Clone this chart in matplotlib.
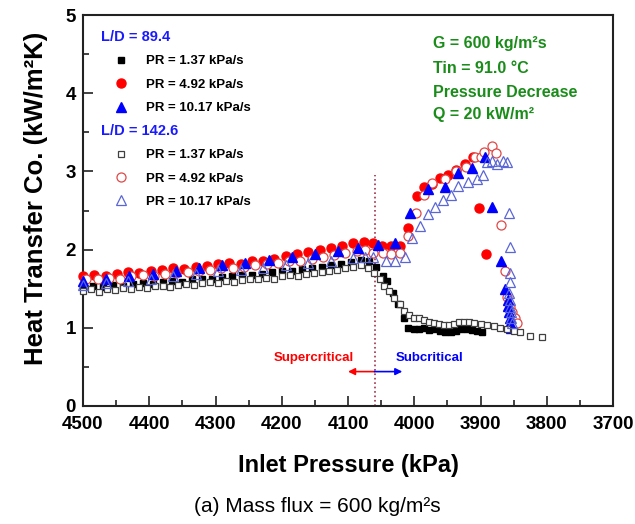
import matplotlib
matplotlib.use("Agg")
import matplotlib.pyplot as plt
from matplotlib.ticker import MultipleLocator
from matplotlib.lines import Line2D

plt.rcParams['font.family'] = ['Liberation Sans', 'DejaVu Sans']

# ---------------- data ----------------
# L/D = 89.4, PR = 1.37 kPa/s (filled squares)
p_sq_f = [4500,4485,4470,4455,4440,4425,4410,4395,4380,4365,4350,4335,4320,4305,4290,4275,4260,4245,4230,4215,
          4200,4185,4170,4155,4140,4125,4110,4095,4080,4068,4058,4047,4041,4032,4025,4015,4009,4001,3993,3985,
          3977,3969,3961,3953,3945,3937,3929,3921,3913,3905,3898]
h_sq_f = [1.52,1.53,1.52,1.55,1.54,1.56,1.57,1.56,1.59,1.60,1.59,1.62,1.63,1.62,1.65,1.66,1.67,1.68,1.69,1.71,
          1.72,1.73,1.75,1.76,1.78,1.80,1.82,1.84,1.87,1.85,1.78,1.66,1.60,1.45,1.30,1.12,1.00,0.99,0.98,1.00,
          0.97,0.98,0.96,0.95,0.94,0.96,0.98,0.99,0.97,0.96,0.95]

# L/D = 89.4, PR = 4.92 kPa/s (filled circles)
p_ci_f = [4500,4483,4466,4449,4432,4415,4398,4381,4364,4347,4330,4313,4296,4279,4262,4245,4228,4211,4194,4177,
          4160,4143,4126,4109,4092,4076,4062,4049,4035,4021,4009,3996,3985,3973,3961,3949,3937,3923,3912,3902,3892]
h_ci_f = [1.66,1.67,1.66,1.69,1.71,1.70,1.73,1.74,1.76,1.75,1.78,1.79,1.81,1.83,1.82,1.85,1.86,1.88,1.92,1.95,
          1.97,1.99,2.02,2.05,2.08,2.10,2.08,2.04,2.05,2.05,2.28,2.68,2.80,2.84,2.92,2.96,3.02,3.10,3.18,2.53,1.95]

# L/D = 89.4, PR = 10.17 kPa/s (filled triangles)
p_tr_f = [4500,4465,4430,4395,4360,4325,4290,4255,4220,4185,4150,4115,4085,4055,4029,4006,3980,3954,3934,3913,
          3893,3883,3869,3863,3859,3858,3857,3856,3855,3854]
h_tr_f = [1.60,1.62,1.66,1.69,1.72,1.76,1.80,1.83,1.87,1.90,1.94,1.98,2.02,2.06,2.09,2.47,2.77,2.80,2.98,3.04,
          3.19,2.54,1.85,1.50,1.36,1.28,1.20,1.13,1.06,1.00]

# L/D = 142.6, PR = 1.37 kPa/s (open squares)
p_sq_o = [4500,4488,4476,4464,4452,4440,4428,4416,4404,4392,4380,4368,4356,4344,4332,4320,4308,4296,4284,4272,
          4260,4248,4236,4224,4212,4200,4188,4176,4164,4152,4140,4128,4116,4104,4092,4080,4070,4061,4052,4045,
          4038,4030,4022,4015,4008,4000,3993,3985,3978,3970,3962,3955,3948,3940,3933,3925,3918,3910,3900,3890,
          3880,3870,3860,3850,3840,3825,3807]
h_sq_o = [1.47,1.49,1.46,1.50,1.48,1.51,1.50,1.52,1.51,1.53,1.54,1.52,1.55,1.56,1.55,1.57,1.58,1.57,1.60,1.59,
          1.61,1.62,1.62,1.64,1.63,1.66,1.67,1.66,1.69,1.70,1.71,1.73,1.74,1.76,1.78,1.80,1.77,1.70,1.62,1.54,
          1.47,1.38,1.30,1.22,1.17,1.13,1.12,1.10,1.08,1.06,1.05,1.04,1.03,1.05,1.08,1.08,1.07,1.06,1.05,1.04,
          1.02,1.00,0.98,0.96,0.94,0.90,0.88]

# L/D = 142.6, PR = 4.92 kPa/s (open circles)
p_ci_o = [4495,4478,4461,4444,4427,4410,4393,4376,4359,4342,4325,4308,4291,4274,4257,4240,4223,4206,4189,4172,
          4155,4138,4121,4104,4087,4074,4062,4047,4035,4021,4009,3997,3985,3973,3954,3937,3922,3908,3900,3895,
          3883,3876,3869,3863,3860,3856,3852,3848,3845]
h_ci_o = [1.62,1.63,1.64,1.63,1.66,1.67,1.66,1.69,1.70,1.71,1.73,1.74,1.76,1.77,1.78,1.80,1.81,1.83,1.85,1.86,
          1.88,1.90,1.93,1.96,1.98,2.00,1.96,1.96,1.94,1.96,2.18,2.47,2.70,2.85,2.90,3.00,3.06,3.19,3.18,3.25,
          3.33,3.24,2.32,1.72,1.40,1.27,1.20,1.12,1.06]

# L/D = 142.6, PR = 10.17 kPa/s (open triangles)
p_tr_o = [4500,4466,4432,4398,4364,4330,4296,4262,4228,4194,4160,4126,4092,4075,4062,4043,4029,4014,4004,3992,
          3980,3968,3956,3945,3934,3919,3906,3896,3890,3883,3875,3866,3860,3857,3855,3855,3855,3857,3856,3855,
          3854,3854,3853]
h_tr_o = [1.55,1.57,1.60,1.63,1.66,1.69,1.72,1.74,1.77,1.80,1.83,1.86,1.89,1.91,1.90,1.85,1.85,1.91,2.15,2.30,
          2.45,2.54,2.64,2.70,2.81,2.87,2.90,2.96,3.12,3.13,3.09,3.13,3.12,2.47,2.03,1.70,1.58,1.44,1.35,1.27,
          1.20,1.13,1.06]

pr_labels = ["PR = 1.37 kPa/s", "PR = 4.92 kPa/s", "PR = 10.17 kPa/s"]
ld_labels = ["L/D = 89.4", "L/D = 142.6"]
cond_lines = ["G = 600 kg/m\u00b2s", "Tin = 91.0 \u00b0C", "Pressure Decrease", "Q = 20 kW/m\u00b2"]
p_critical = 4060

# ---------------- figure ----------------
fig = plt.figure(figsize=(6.35, 5.24), dpi=100)
ax = fig.add_axes([83/635, 1-406/524, 530/635, 391/524])

RED = '#ff0000'
BLUE = '#0000ff'
ORED = '#e04848'
OBLUE = '#5a66d6'
OGRAY = '#404040'

s1, = ax.plot(p_sq_f, h_sq_f, ls='none', marker='s', ms=5, mfc='black', mec='black', zorder=3, clip_on=False)
s2, = ax.plot(p_ci_f, h_ci_f, ls='none', marker='o', ms=6.5, mfc=RED, mec=RED, zorder=4, clip_on=False)
s5, = ax.plot(p_ci_o, h_ci_o, ls='none', marker='o', ms=6.5, mfc='white', mec=ORED, mew=0.9, zorder=5, clip_on=False)
s3, = ax.plot(p_tr_f, h_tr_f, ls='none', marker='^', ms=7, mfc=BLUE, mec=BLUE, zorder=6, clip_on=False)
s4, = ax.plot(p_sq_o, h_sq_o, ls='none', marker='s', ms=5, mfc='white', mec=OGRAY, mew=0.9, zorder=6.5, clip_on=False)
s6, = ax.plot(p_tr_o, h_tr_o, ls='none', marker='^', ms=7.5, mfc='none', mec=OBLUE, mew=0.9, zorder=7, clip_on=False)

ax.set_xlim(4500, 3700)
ax.set_ylim(0, 5)
ax.xaxis.set_major_locator(MultipleLocator(100))
ax.xaxis.set_minor_locator(MultipleLocator(50))
ax.yaxis.set_major_locator(MultipleLocator(1))
ax.yaxis.set_minor_locator(MultipleLocator(0.5))
ax.tick_params(which='both', direction='in', top=False, right=False, width=1.2, color='#222222')
ax.tick_params(which='major', length=7, labelsize=13.5)
ax.tick_params(axis='x', which='major', pad=7)
ax.tick_params(axis='y', which='major', pad=5)
ax.tick_params(which='minor', length=4)
for lab in ax.get_xticklabels() + ax.get_yticklabels():
    lab.set_fontweight('bold')
for sp in ax.spines.values():
    sp.set_linewidth(1.5)
    sp.set_color('#222222')

ax.set_xlabel("Inlet Pressure (kPa)", fontsize=17, fontweight='bold')
ax.set_ylabel("Heat Transfer Co. (kW/m\u00b2K)", fontsize=18.5, fontweight='bold')
ax.xaxis.set_label_coords(0.5, -0.122)
ax.yaxis.set_label_coords(-0.066, 0.53)

# critical pressure line and arrows
ax.plot([p_critical, p_critical], [0, 2.95], ls=':', color='#a03048', lw=1.2, zorder=2)
ax.annotate('', xy=(4100, 0.44), xytext=(p_critical, 0.44),
            arrowprops=dict(arrowstyle='-|>', color=RED, lw=1.2, mutation_scale=10, shrinkA=0, shrinkB=0))
ax.annotate('', xy=(4018, 0.44), xytext=(p_critical, 0.44),
            arrowprops=dict(arrowstyle='-|>', color=BLUE, lw=1.2, mutation_scale=10, shrinkA=0, shrinkB=0))
ax.text(4152, 0.62, "Supercritical", color=RED, fontsize=9.5, fontweight='bold', ha='center', va='center')
ax.text(3977, 0.62, "Subcritical", color=BLUE, fontsize=9.5, fontweight='bold', ha='center', va='center')

# conditions text
GREEN = '#1a8c1a'
for txt, y in zip(cond_lines, [0.928, 0.864, 0.803, 0.746]):
    ax.text(0.66, y, txt, transform=ax.transAxes, color=GREEN, fontsize=11.5,
            fontweight='bold', ha='left', va='center')

# legends
leg_kw = dict(frameon=False, loc='upper left', borderpad=0, borderaxespad=0,
              handlelength=3.0, handletextpad=0.4, labelspacing=0.85, numpoints=1,
              prop={'weight': 'bold', 'size': 9.5}, alignment='left',
              title_fontproperties={'weight': 'bold', 'size': 10.5})
leg1 = ax.legend([s1, s2, s3], pr_labels, title=ld_labels[0],
                 bbox_to_anchor=(0.034, 0.962), **leg_kw)
leg1.get_title().set_color('#1a1aff')
ax.add_artist(leg1)
h4 = Line2D([], [], ls='none', marker='s', ms=5, mfc='white', mec=OGRAY, mew=0.9)
h5 = Line2D([], [], ls='none', marker='o', ms=6.5, mfc='white', mec=ORED, mew=0.9)
h6 = Line2D([], [], ls='none', marker='^', ms=7.5, mfc='none', mec=OBLUE, mew=0.9)
leg2 = ax.legend([h4, h5, h6], pr_labels, title=ld_labels[1],
                 bbox_to_anchor=(0.034, 0.722), **leg_kw)
leg2.get_title().set_color('#1a1aff')

fig.text(0.5, 1-507/524, "(a) Mass flux = 600 kg/m\u00b2s", ha='center', va='center', fontsize=15)

fig.savefig("out.png", dpi=100)
